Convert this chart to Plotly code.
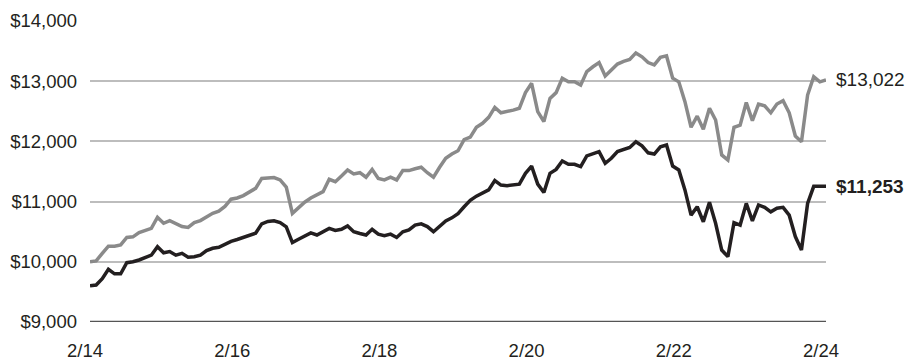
import plotly.graph_objects as go

months = list(range(121))
tick_positions = [0, 24, 48, 72, 96, 120]
tick_labels = ["2/14", "2/16", "2/18", "2/20", "2/22", "2/24"]

fund_values = [
    9600, 9615, 9720, 9875, 9800, 9800, 9985, 10000, 10030, 10070,
    10110, 10250, 10150, 10170, 10110, 10140, 10075, 10085, 10110, 10185,
    10225, 10240, 10290, 10340, 10370, 10400, 10440, 10475, 10630, 10670,
    10680, 10650, 10580, 10320, 10375, 10430, 10480, 10445, 10500, 10555,
    10520, 10540, 10595, 10500, 10470, 10445, 10540, 10460, 10435, 10460,
    10405, 10500, 10530, 10610, 10630, 10585, 10500, 10595, 10680, 10730,
    10800, 10915, 11020, 11090, 11140, 11195, 11350, 11275, 11265, 11275,
    11290, 11470, 11590, 11290, 11150, 11470, 11535, 11675, 11620, 11620,
    11580, 11760, 11800, 11830, 11635, 11720, 11830, 11870, 11900, 11995,
    11925, 11810, 11790, 11910, 11940, 11590, 11525, 11195, 10775, 10915,
    10665, 10990, 10640, 10195, 10085, 10650, 10610, 10970, 10680, 10945,
    10905, 10830, 10890, 10905, 10775, 10420, 10195, 10970, 11253, 11253,
    11253,
]

index_values = [
    10000, 10015, 10140, 10260, 10260, 10280, 10405, 10415, 10485, 10515,
    10555, 10740, 10640, 10685, 10630, 10585, 10570, 10650, 10685, 10750,
    10805, 10840, 10920, 11040, 11060, 11100, 11165, 11220, 11385, 11395,
    11400, 11360, 11240, 10805, 10905, 10990, 11060, 11110, 11165, 11370,
    11330, 11425, 11525, 11460, 11480, 11405, 11535, 11385, 11360, 11405,
    11360, 11515, 11515, 11545, 11570, 11480, 11405, 11570, 11720, 11790,
    11845, 12030, 12070, 12235, 12300, 12400, 12565, 12475, 12495, 12520,
    12550, 12810, 12965, 12495, 12330, 12715, 12810, 13050, 12990, 12990,
    12935, 13160, 13240, 13310, 13085, 13195, 13285, 13330, 13360, 13470,
    13405, 13310, 13270, 13395, 13420, 13050, 12990, 12660, 12235, 12420,
    12200, 12550, 12355, 11775, 11690, 12235, 12270, 12645, 12345, 12620,
    12590, 12475, 12620, 12675, 12475, 12090, 11995, 12770, 13075, 12990,
    13022,
]

y_ticks = [9000, 10000, 11000, 12000, 13000, 14000]
y_tick_labels = ["$9,000", "$10,000", "$11,000", "$12,000", "$13,000", "$14,000"]

FONT = "Liberation Sans, Arial, sans-serif"
GRAY = "#8a8a8a"
BLACK = "#231f20"

fig = go.Figure()
fig.add_trace(go.Scatter(x=months, y=index_values, mode="lines",
                         line=dict(color=GRAY, width=3.5), hoverinfo="skip"))
fig.add_trace(go.Scatter(x=months, y=fund_values, mode="lines",
                         line=dict(color=BLACK, width=3.5), hoverinfo="skip"))

fig.add_annotation(x=months[-1], y=index_values[-1], text="$13,022",
                   showarrow=False, xanchor="left", yanchor="middle", xshift=8,
                   font=dict(family=FONT, size=19, color="#231f20"))
fig.add_annotation(x=months[-1], y=fund_values[-1], text="<b>$11,253</b>",
                   showarrow=False, xanchor="left", yanchor="middle", xshift=8,
                   font=dict(family=FONT, size=19, color="#231f20"))

fig.update_layout(
    width=906, height=359,
    margin=dict(l=90, r=80, t=21, b=37, autoexpand=False),
    paper_bgcolor="white", plot_bgcolor="white",
    showlegend=False,
    font=dict(family=FONT, size=18, color="#231f20"),
)
fig.update_xaxes(
    range=[0, 120], tickvals=tick_positions, ticktext=tick_labels,
    showgrid=False, zeroline=False, showline=False, ticks="",
    automargin=False,
    ticklabelstandoff=15, ticklabelshift=-5,
    tickfont=dict(family=FONT, size=18.5, color="#231f20"),
)
fig.update_yaxes(
    range=[9000, 14000], tickvals=y_ticks, ticktext=y_tick_labels,
    showgrid=True, gridcolor="#bdbdbd", gridwidth=1.5,
    zeroline=False, showline=False, ticks="",
    automargin=False,
    ticklabelstandoff=12,
    tickfont=dict(family=FONT, size=18.5, color="#231f20"),
)
fig.add_shape(type="line", xref="x", yref="y", x0=0, x1=120, y0=9000, y1=9000,
              line=dict(color="#555555", width=2.5), layer="below")

fig.write_html("out.html")
